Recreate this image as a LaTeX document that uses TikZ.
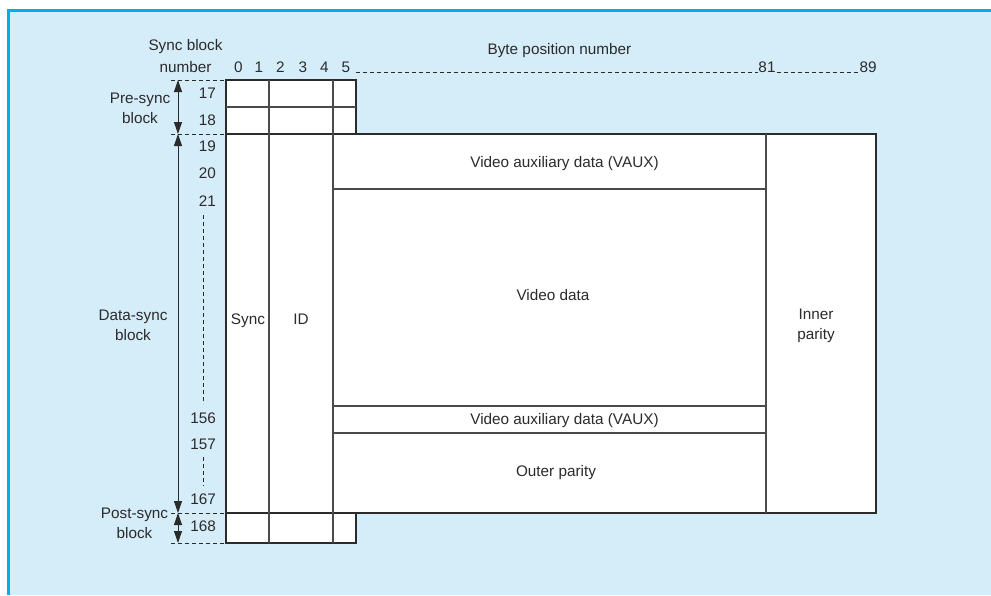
\documentclass[tikz,border=0pt]{standalone}
\usepackage{fontspec}
\setmainfont{Liberation Sans}
\usetikzlibrary{arrows.meta}
\definecolor{panel}{HTML}{D5ECF9}
\definecolor{rule}{HTML}{00AEEF}
\definecolor{ink}{HTML}{2B2B2B}

\tikzset{
  cell/.style={draw=ink, line width=1.1pt, fill=white},
  divider/.style={draw=ink!85, line width=1.1pt},
  guide/.style={draw=ink, line width=0.8pt, dash pattern=on 4pt off 3pt},
  span/.style={draw=ink, line width=0.9pt, {Triangle[length=12pt,width=8pt]}-{Triangle[length=12pt,width=8pt]}},
  lbl/.style={text=ink, inner sep=0pt},
  twoline/.style={lbl, align=center, font=\fontsize{15.3}{20}\selectfont},
}

\begin{document}
\begin{tikzpicture}[x=1pt, y=-1pt, font=\fontsize{15.3}{18}\selectfont]
  \def\xa{226} \def\xb{269} \def\xc{333} \def\xd{356} \def\xe{766} \def\xf{876}
  \def\ya{80} \def\yb{107} \def\yc{134} \def\yd{189} \def\ye{406} \def\yf{433} \def\yg{513} \def\yh{543}

  \useasboundingbox (0,0) rectangle (991,595);
  % panel and its rule
  \fill[panel] (8,10) rectangle (991,595);
  \draw[rule, line width=3pt] (8,595) -- (8,10) -- (991,10);

  % pre-sync, data-sync and post-sync blocks
  \draw[cell] (\xa,\ya) rectangle (\xd,\yc);
  \draw[cell] (\xa,\yc) rectangle (\xf,\yg);
  \draw[cell] (\xa,\yg) rectangle (\xd,\yh);
  \draw[divider] (\xa,\yb) -- (\xd,\yb)
    (\xb,\ya) -- (\xb,\yh) (\xc,\ya) -- (\xc,\yh) (\xe,\yc) -- (\xe,\yg)
    (\xc,\yd) -- (\xe,\yd) (\xc,\ye) -- (\xe,\ye) (\xc,\yf) -- (\xe,\yf);

  % byte positions along the top
  \node[lbl, anchor=base] (bytehead) at (559.5,54.5) {Byte position number};
  \node[twoline, font=\fontsize{15.3}{22.5}\selectfont] (sbhead) at (185.5,55.8) {Sync block\\number};
  \foreach \b/\x in {0/238.5,1/259,2/280.5,3/303,4/324.5,5/346}
    \node[lbl, anchor=base] (byte\b) at (\x,72.5) {\b};
  \node[lbl, anchor=base] (byte81) at (767,72.5) {81};
  \node[lbl, anchor=base] (byte89) at (868,72.5) {89};
  \draw[guide] ([xshift=6pt]byte5.base east) -- (byte81.base west)
    ([xshift=1pt]byte81.base east) -- (byte89.base west);

  % sync block numbers down the side
  \foreach \n/\y in {17/93.5,18/120.5,19/146.5,20/173.5,21/201.5,156/418,157/444.5,167/499,168/526.5}
    \node[lbl, anchor=east] (row\n) at (216,\y) {\n};
  \draw[guide] (203,215) -- (203,404) (203,457) -- (203,486);

  % block extents
  \foreach \s/\y in {0/\ya,1/\yc,2/\yg,3/\yh} {
    \coordinate (s\s) at (178,\y);
    \draw[guide] (171,\y) -- (\xa,\y);
  }
  \draw[span] (s0) -- (s1);
  \draw[span] (s1) -- (s2);
  \draw[span] (s2) -- (s3);
  \node[twoline] (presync) at (140,108.5) {Pre-sync\\block};
  \node[twoline] (datasync) at (133,325.5) {Data-sync\\block};
  \node[twoline] (postsync) at (134.5,523.5) {Post-sync\\block};

  % field names
  \node[lbl, anchor=base] (sync) at (248,324.5) {Sync};
  \node[lbl, anchor=base] (id) at (301,324.5) {ID};
  \node[lbl, anchor=base] (vaux1) at (564.5,167) {Video auxiliary data (VAUX)};
  \node[lbl, anchor=base] (video) at (553,300) {Video data};
  \node[lbl, anchor=base] (vaux2) at (564.5,424.5) {Video auxiliary data (VAUX)};
  \node[lbl, anchor=base] (outer) at (556,476.5) {Outer parity};
  \node[twoline] (inner) at (816,326) {Inner\\parity};
\end{tikzpicture}
\end{document}
